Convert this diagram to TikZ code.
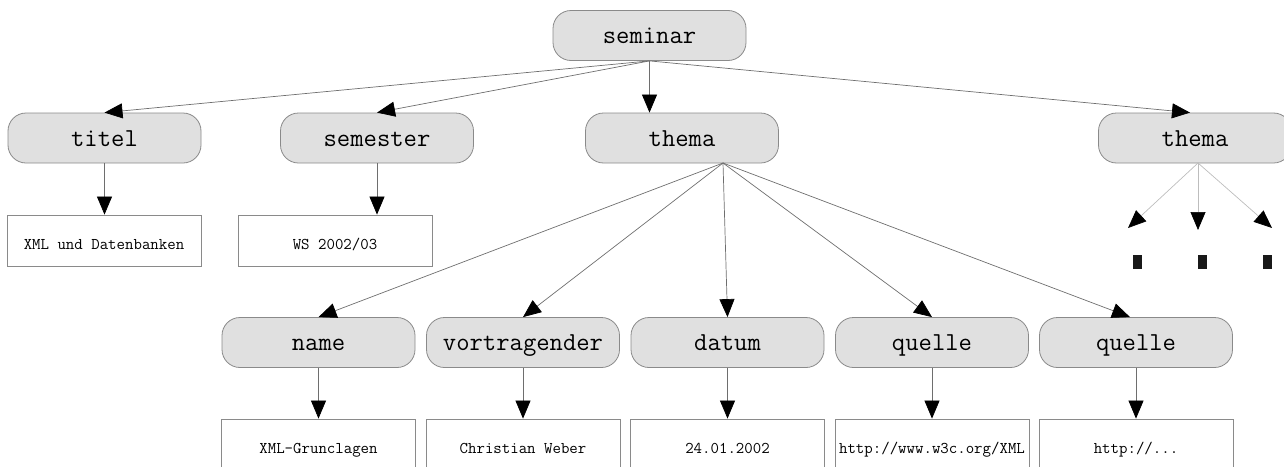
\documentclass[tikz,border=0pt]{standalone}
\usepackage{fontspec}
\usetikzlibrary{arrows.meta}
\definecolor{boxfill}{HTML}{E0E0E0}
\definecolor{boxline}{HTML}{8A8A8A}
\definecolor{conn}{HTML}{6E6E6E}
\definecolor{connlight}{HTML}{BDBDBD}
\begin{document}
\begin{tikzpicture}[x=1pt,y=-1pt,
  elem/.style={draw=boxline, fill=boxfill, rounded corners=18pt, minimum width=193pt,
    minimum height=50pt, inner sep=0pt, line width=0.8pt,
    font=\fontsize{25.9}{28}\selectfont\ttfamily, text height=18pt, text depth=2pt},
  leaf/.style={draw=boxline, fill=white, minimum width=194pt, minimum height=51pt,
    inner sep=0pt, line width=0.8pt,
    font=\fontsize{16.4}{18}\selectfont\ttfamily, text height=18pt, text depth=1pt},
  arr/.style={draw=conn, line width=0.7pt, -{Triangle[length=18pt,width=15pt,color=black]}},
  arrlight/.style={draw=connlight, line width=0.7pt, -{Triangle[length=18pt,width=15pt,color=black]}},
  bar/.style={fill=black!90}
]
\useasboundingbox (0,0) rectangle (1284,466);

% element nodes
\node[elem] (seminar) at (649.5,35.5) {seminar};
\node[elem] (titel) at (104.5,138) {titel};
\node[elem] (semester) at (377,138) {semester};
\node[elem] (thema) at (682,138) {thema};
\node[elem] (thema2) at (1195,138) {thema};
\node[elem] (name) at (318.5,342.5) {name};
\node[elem] (vort) at (523,342.5) {vortragender};
\node[elem] (datum) at (727.5,342.5) {datum};
\node[elem] (quelle1) at (932,342.5) {quelle};
\node[elem] (quelle2) at (1136,342.5) {quelle};

% leaf nodes
\node[leaf] (titelv) at (104,240.5) {XML und Datenbanken};
\node[leaf] (semv) at (335,240.5) {WS 2002/03};
\node[leaf] (namev) at (318.5,444.5) {XML-Grunclagen};
\node[leaf] (vortv) at (523,444.5) {Christian Weber};
\node[leaf] (datumv) at (727.5,444.5) {24.01.2002};
\node[leaf] (quelle1v) at (932,444.5) {http://www.w3c.org/XML};
\node[leaf] (quelle2v) at (1136,444.5) {http://...};

% helper coordinates
\coordinate (thout) at (723,163);
\coordinate (t2out) at (1198,163);
\coordinate (d1) at (1128,228);
\coordinate (d2) at (1198,230);
\coordinate (d3) at (1272,228);

% seminar connectors
\draw[arr] (seminar.south) -- (titel.north);
\draw[arr] (seminar.south) -- (semester.north);
\draw[arr] (seminar.south) -- (seminar.south |- thema.north);
\draw[arr] (seminar.south) -- ([xshift=-5pt]thema2.north);

% value connectors
\draw[arr] (titel.south) -- (titel.south |- titelv.north);
\draw[arr] (semester.south) -- (semester.south |- semv.north);

% thema connectors
\draw[arr] (thout) -- (name.north);
\draw[arr] (thout) -- (vort.north);
\draw[arr] (thout) -- (datum.north);
\draw[arr] (thout) -- (quelle1.north);
\draw[arr] (thout) -- ([xshift=-6pt]quelle2.north);

\draw[arr] (name.south) -- (namev.north);
\draw[arr] (vort.south) -- (vortv.north);
\draw[arr] (datum.south) -- (datumv.north);
\draw[arr] (quelle1.south) -- (quelle1v.north);
\draw[arr] (quelle2.south) -- (quelle2v.north);

% second thema (elided)
\draw[arrlight] (t2out) -- (d1);
\draw[arrlight] (t2out) -- (d2);
\draw[arrlight] (t2out) -- (d3);
\fill[bar] (1133,255) rectangle (1142,269);
\fill[bar] (1198,255) rectangle (1207,269);
\fill[bar] (1263,255) rectangle (1272,269);
\end{tikzpicture}
\end{document}
